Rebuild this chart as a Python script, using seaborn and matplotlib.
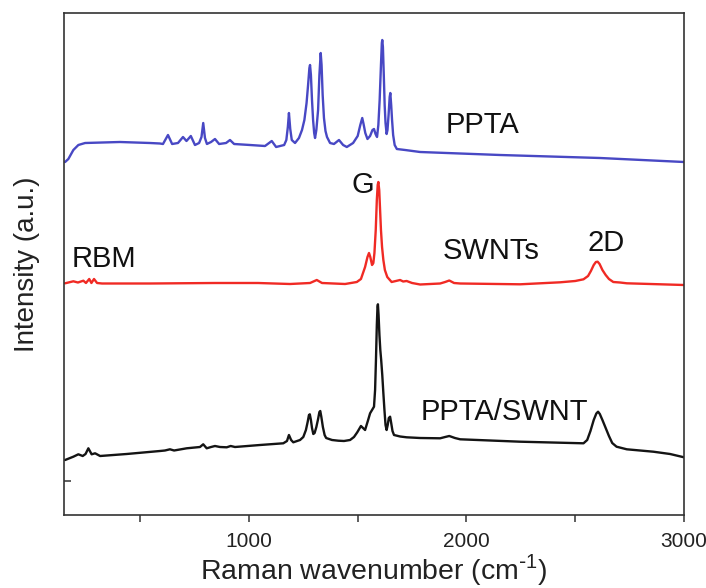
import matplotlib
matplotlib.use("Agg")
import matplotlib.pyplot as plt
from matplotlib.ticker import MultipleLocator, FixedLocator
import seaborn as sns
import pandas as pd

# ---- data (wavenumber in cm-1, offset intensity in a.u.) ----
ppta_wn = [155, 170, 193, 216, 247, 407, 545, 591, 605, 628, 647, 674, 697, 713, 733, 752,
           771, 782, 790, 798, 807, 826, 844, 863, 895, 913, 932, 1005, 1074, 1105, 1125,
           1162, 1172, 1179, 1184, 1190, 1197, 1212, 1230, 1244, 1255, 1265, 1272, 1278, 1281,
           1285, 1290, 1295, 1300, 1304, 1310, 1318, 1324, 1330, 1334, 1339, 1345, 1352, 1359,
           1373, 1391, 1414, 1433, 1450, 1479, 1500, 1512, 1521, 1527, 1535, 1545, 1557, 1568,
           1575, 1582, 1589, 1595, 1601, 1607, 1611, 1613, 1616, 1620, 1624, 1628, 1633, 1637,
           1642, 1647, 1650, 1654, 1658, 1663, 1670, 1680, 1718, 1787, 2155, 2614, 3000]
ppta_int = [353, 356, 365, 370, 372, 373, 372, 371.5, 371, 380, 371, 372, 378, 374, 379, 370,
            372, 378, 392, 377, 371, 373, 376, 371, 372, 375, 371, 370, 369, 374, 368,
            370, 375, 388, 402, 386, 375, 372, 377, 385, 395, 412, 430, 447, 450,
            440, 415, 395, 382, 377, 385, 405, 440, 462, 450, 420, 397, 384, 378,
            372, 371, 375, 370, 368, 372, 379, 390, 397, 391, 382, 376, 379, 385,
            386, 381, 378, 390, 415, 450, 472, 475, 468, 440, 410, 392, 381, 385,
            400, 418, 422, 410, 395, 380, 370, 366, 365, 363, 360, 357, 353]

swnt_wn = [155, 193, 214, 239, 251, 266, 276, 288, 302, 325, 545, 844, 1042, 1189, 1281, 1312,
           1336, 1442, 1496, 1515, 1534, 1545, 1552, 1558, 1566, 1572, 1577, 1583, 1588, 1592,
           1595, 1599, 1603, 1607, 1612, 1618, 1625, 1636, 1656, 1695, 1709, 1725, 1750, 1787,
           1879, 1902, 1921, 1943, 1971, 2247, 2431, 2500, 2538, 2559, 2572, 2585, 2595, 2603,
           2612, 2625, 2640, 2655, 2675, 2706, 2737, 3000]
swnt_int = [231.7, 233.7, 232.5, 234.3, 232, 236, 232, 236, 232, 231.5, 231.5, 232, 232, 231, 232, 235,
            232, 231, 233, 236, 248, 258, 262, 258, 250, 252, 262, 285, 315, 330,
            333, 325, 305, 285, 268, 255, 245, 238, 233, 235, 233.5, 234, 232, 230.5,
            231.5, 233, 234.5, 232, 231.5, 230.7, 232.7, 234, 235.7, 239, 244, 250, 253, 253.3,
            251, 245, 240, 236, 233, 232.5, 231.7, 230]

comp_wn = [155, 193, 216, 236, 249, 262, 277, 293, 316, 438, 591, 614, 637, 656, 714, 775, 790,
           806, 826, 844, 867, 898, 916, 936, 1051, 1158, 1175, 1184, 1194, 1204, 1235, 1250,
           1262, 1270, 1276, 1280, 1285, 1290, 1296, 1302, 1310, 1318, 1324, 1328, 1333, 1340,
           1348, 1355, 1382, 1411, 1437, 1465, 1483, 1498, 1515, 1534, 1548, 1557, 1575, 1580,
           1584, 1588, 1591, 1593, 1596, 1600, 1604, 1608, 1613, 1618, 1623, 1628, 1633, 1638,
           1643, 1649, 1654, 1660, 1667, 1695, 1725, 1787, 1879, 1902, 1921, 1947, 1971, 2247,
           2538, 2555, 2570, 2585, 2597, 2605, 2613, 2625, 2640, 2655, 2670, 2690, 2737, 2859,
           2936, 3000]
comp_int = [55, 58.3, 60.7, 59, 61, 66.7, 60.7, 61.7, 59, 61, 64, 64.5, 65.7, 64.5, 66.7, 68, 70.7,
            66.7, 68, 69, 68, 67.7, 69, 68, 70, 71.7, 74, 80, 75, 72.7, 75, 78,
            85, 93, 100, 100.7, 95, 87, 81, 82, 88, 96, 103, 104, 98, 88,
            80, 77, 75, 74.3, 74, 75, 78, 82.7, 89, 85, 95, 101.7, 108.3, 125,
            155, 190, 208, 210.7, 200, 180, 165, 155, 140, 122, 105, 90, 85, 90,
            97, 98.3, 92, 84, 80, 78.5, 77.7, 77, 76.7, 78, 79, 77, 75.7, 73.3,
            71.7, 75, 84, 95, 101.5, 103.3, 101, 95, 87, 79, 72, 68.3, 65.7, 63.3,
            61, 57.7]

series_names = ["PPTA", "SWNTs", "PPTA/SWNT"]
series_colors = ["#4848c4", "#f02a24", "#141414"]
xtick_values = [1000, 2000, 3000]

# annotations: (text, wavenumber, intensity, ha)
annotations = [("PPTA", 1902, 390, "left"),
               ("G", 1525, 330, "center"),
               ("RBM", 187, 256, "left"),
               ("SWNTs", 1893, 264, "left"),
               ("2D", 2642, 272, "center"),
               ("PPTA/SWNT", 1791, 103, "left")]

frames = []
for name, wn, it in zip(series_names, [ppta_wn, swnt_wn, comp_wn], [ppta_int, swnt_int, comp_int]):
    frames.append(pd.DataFrame({"wn": wn, "I": it, "sample": name}))
df = pd.concat(frames, ignore_index=True)

sns.set_style("ticks")
plt.rcParams["font.family"] = ["Liberation Sans", "DejaVu Sans"]

fig = plt.figure(figsize=(7.06, 5.88), dpi=100)
ax = fig.add_axes([64 / 706, (588 - 515) / 588, (684 - 64) / 706, (515 - 13) / 588])

sns.lineplot(data=df, x="wn", y="I", hue="sample", palette=dict(zip(series_names, series_colors)),
             linewidth=1.7, legend=False, ax=ax, estimator=None, sort=False)
for ln in ax.get_lines():
    ln.set_solid_joinstyle("round")

for txt, xw, yi, ha in annotations:
    ax.text(xw, yi, txt, ha=ha, va="center", fontsize=21, color="#111111")

ax.set_xlim(150, 3000)
ax.set_ylim(0, 502)
ax.xaxis.set_major_locator(FixedLocator(xtick_values))
ax.xaxis.set_minor_locator(MultipleLocator(500))
ax.set_yticks([34])
ax.set_yticklabels([])
ax.tick_params(axis="x", which="both", direction="out", length=5, width=1.1, labelsize=15,
               color="#333333", labelcolor="#222222", pad=7)
ax.tick_params(axis="y", direction="in", length=5, width=1.1, color="#333333")
for s in ax.spines.values():
    s.set_linewidth(1.2)
    s.set_color("#333333")
    s.set_visible(True)

ax.set_xlabel(r"Raman wavenumber (cm$^{\mathregular{\text{-}1}}$)", fontsize=20.5, color="#222222", labelpad=1)
ax.set_ylabel("Intensity (a.u.)", fontsize=20, color="#222222", labelpad=14)

fig.savefig("out.png", dpi=100)
